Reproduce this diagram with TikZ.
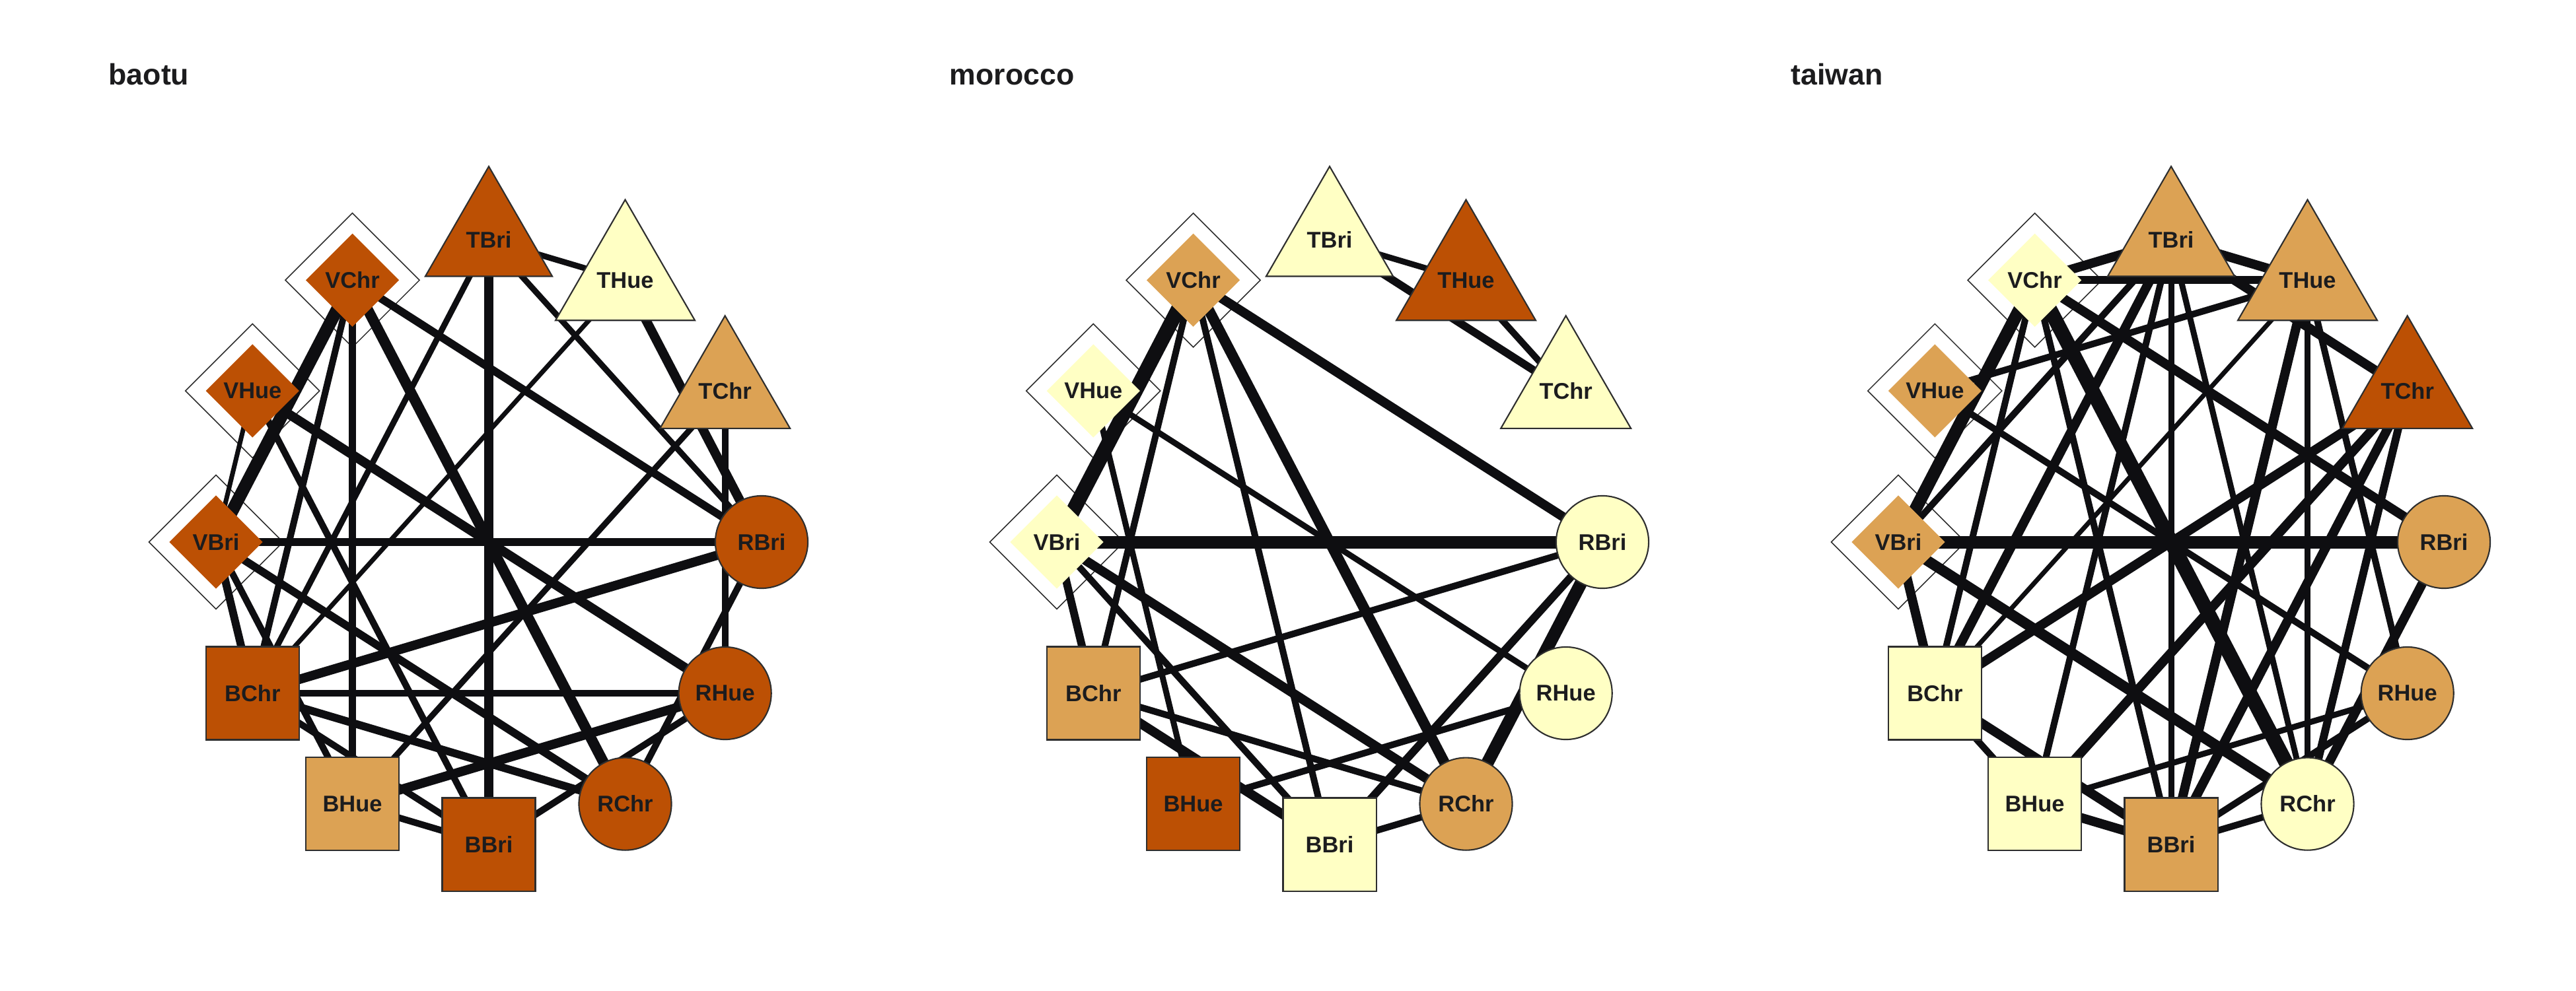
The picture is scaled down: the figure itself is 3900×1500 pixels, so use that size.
\documentclass[tikz,border=0pt]{standalone}
\usepackage{fontspec}
\setmainfont{Liberation Sans}
\usetikzlibrary{shapes.geometric}

\definecolor{hi}{HTML}{BC5004}
\definecolor{mid}{HTML}{DCA254}
\definecolor{lo}{HTML}{FFFFC4}
\definecolor{ink}{HTML}{1C1C1E}
\definecolor{rim}{HTML}{2E2E2E}
\definecolor{wire}{HTML}{0E0E11}

\pgfdeclarelayer{paper}
\pgfdeclarelayer{frame}
\pgfdeclarelayer{links}
\pgfsetlayers{paper,frame,links,main}

\tikzset{
  lab/.style={font=\fontsize{9.8}{11}\selectfont\bfseries, text=ink, inner sep=0pt, draw=rim, line width=0.6pt},
  tri/.style={lab, regular polygon, regular polygon sides=3, minimum size=2.217cm},
  circ/.style={lab, circle, minimum size=1.40cm},
  sq/.style={lab, rectangle, minimum size=1.41cm},
  dia/.style={lab, diamond, aspect=1, minimum size=1.42cm, draw=none},
  outerd/.style={draw=rim, line width=0.45pt, fill=white},
  ttl/.style={font=\fontsize{12.7}{14}\selectfont\bfseries, text=ink, inner sep=0pt, anchor=base west},
  lk/.style={draw=wire, line cap=butt},
  w7/.style={lk, line width=2.0pt},
  w9/.style={lk, line width=2.55pt},
  w10/.style={lk, line width=2.85pt},
  w12/.style={lk, line width=3.4pt},
  w14/.style={lk, line width=4.0pt},
  w16/.style={lk, line width=4.55pt},
  w19/.style={lk, line width=5.4pt},
  w22/.style={lk, line width=6.25pt},
}

\begin{document}
\begin{tikzpicture}[x=0.01cm, y=-0.01cm]
\useasboundingbox (0,0) rectangle (3900,1500);
\begin{pgfonlayer}{paper}
  \fill[white] (0,0) rectangle (3900,1500);
\end{pgfonlayer}

% panel titles
\node[ttl] (a-title) at (164,129) {baotu};
\node[ttl] (b-title) at (1437,129) {morocco};
\node[ttl] (c-title) at (2711,129) {taiwan};

% nodes on an ellipse, clockwise from the top
\foreach \nm/\ang/\shp/\col in {TBri/90/tri/hi, THue/60/tri/lo, TChr/30/tri/mid,
    RBri/0/circ/hi, RHue/-30/circ/hi, RChr/-60/circ/hi,
    BBri/-90/sq/hi, BHue/-120/sq/mid, BChr/-150/sq/hi,
    VBri/180/dia/hi, VHue/150/dia/hi, VChr/120/dia/hi}
  \node[\shp, fill=\col] (a-\nm) at ({740+413*cos(\ang)},{821-458*sin(\ang)}) {\nm};

\foreach \nm/\ang/\shp/\col in {TBri/90/tri/lo, THue/60/tri/hi, TChr/30/tri/lo,
    RBri/0/circ/lo, RHue/-30/circ/lo, RChr/-60/circ/mid,
    BBri/-90/sq/lo, BHue/-120/sq/hi, BChr/-150/sq/mid,
    VBri/180/dia/lo, VHue/150/dia/lo, VChr/120/dia/mid}
  \node[\shp, fill=\col] (b-\nm) at ({2013+413*cos(\ang)},{821-458*sin(\ang)}) {\nm};

\foreach \nm/\ang/\shp/\col in {TBri/90/tri/mid, THue/60/tri/mid, TChr/30/tri/hi,
    RBri/0/circ/mid, RHue/-30/circ/mid, RChr/-60/circ/lo,
    BBri/-90/sq/mid, BHue/-120/sq/lo, BChr/-150/sq/lo,
    VBri/180/dia/mid, VHue/150/dia/mid, VChr/120/dia/lo}
  \node[\shp, fill=\col] (c-\nm) at ({3287+413*cos(\ang)},{821-458*sin(\ang)}) {\nm};

% white outer frames of the diamond nodes
\begin{pgfonlayer}{frame}
  \foreach \p in {a,b,c}
    \foreach \nm in {VBri,VHue,VChr}
      \draw[outerd] (\p-\nm.center) +(-101.5,0) -- +(0,-101.5) -- +(101.5,0) -- +(0,101.5) -- cycle;
\end{pgfonlayer}

% weighted links
\begin{pgfonlayer}{links}
  \foreach \u/\v/\w in {TBri/THue/w9, TBri/BBri/w14, TBri/RBri/w9, TBri/BChr/w9,
      THue/BChr/w7, THue/RBri/w14, TChr/RHue/w10, TChr/BHue/w9,
      VChr/RBri/w12, VChr/RChr/w16, VChr/BHue/w10, VChr/BChr/w10, VChr/VBri/w19,
      VHue/RHue/w14, VHue/BBri/w10, VHue/VBri/w7,
      VBri/RBri/w12, VBri/RChr/w12, VBri/BHue/w10, VBri/BChr/w12,
      BChr/RBri/w14, BChr/RHue/w10, BChr/RChr/w12, BChr/BBri/w10,
      BHue/RHue/w14, BHue/BBri/w10, RHue/BBri/w10, RBri/RChr/w10}
    \draw[\w] (a-\u.center) -- (a-\v.center);

  \foreach \u/\v/\w in {TBri/THue/w9, TBri/TChr/w12, THue/TChr/w10,
      VChr/RBri/w14, VChr/RChr/w16, VChr/BBri/w10, VChr/BChr/w10, VChr/VBri/w22,
      VHue/RHue/w9, VHue/BHue/w9,
      VBri/RBri/w19, VBri/RChr/w14, VBri/BBri/w10, VBri/BChr/w12,
      BChr/RBri/w10, BChr/RChr/w10, BChr/BBri/w14, BHue/RHue/w10,
      RBri/RChr/w19, RBri/BBri/w12, RChr/BBri/w10}
    \draw[\w] (b-\u.center) -- (b-\v.center);

  \foreach \u/\v/\w in {VChr/TBri/w14, VChr/THue/w12, VChr/VBri/w19, VChr/BChr/w10,
      VChr/BBri/w10, VChr/RChr/w22, VChr/RBri/w14,
      TBri/THue/w14, TBri/TChr/w14, TBri/VBri/w10, TBri/BChr/w14, TBri/BHue/w10,
      TBri/BBri/w9, TBri/RChr/w9,
      THue/VHue/w10, THue/BChr/w7, THue/BBri/w14, THue/RChr/w9, THue/RHue/w10,
      TChr/BChr/w14, TChr/BHue/w14, TChr/BBri/w14, TChr/RChr/w12,
      VHue/RHue/w10, VBri/RBri/w19, VBri/RChr/w16, VBri/BChr/w14,
      BChr/BHue/w10, BChr/BBri/w14, BHue/BBri/w14, BHue/RHue/w9,
      RHue/BBri/w10, RChr/BBri/w10, RBri/RChr/w14}
    \draw[\w] (c-\u.center) -- (c-\v.center);
\end{pgfonlayer}
\end{tikzpicture}
\end{document}
